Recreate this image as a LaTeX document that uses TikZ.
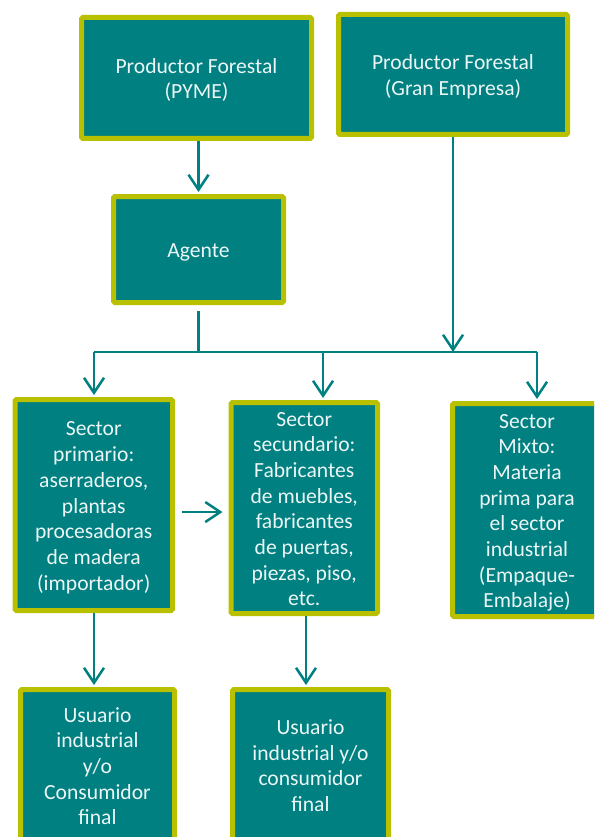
\documentclass[tikz,border=0pt]{standalone}
\usepackage{fontspec}
\setmainfont{Carlito}
\usetikzlibrary{arrows.meta}
\definecolor{tealfill}{RGB}{0,128,128}
\definecolor{olivebrd}{RGB}{184,192,0}
\definecolor{txtc}{RGB}{236,246,246}
\newcommand{\mytop}{\rule{0pt}{20pt}}
\newcommand{\mybot}{\rule[-4pt]{0pt}{0pt}}
\begin{document}
\begin{tikzpicture}[x=1pt,y=-1pt,
  box/.style={draw=olivebrd, line width=5pt, fill=tealfill, rounded corners=1.5pt,
    inner sep=0pt, align=center, text=txtc, font=\fontsize{21.6}{25.7}\selectfont},
  conn/.style={draw=tealfill, line width=2.5pt},
  arr/.style={conn, -{Straight Barb[length=15pt,width=20pt]}, shorten >=2pt}]
\useasboundingbox (0,0) rectangle (594,837);
\clip (0,0) rectangle (594,837);
\node[box, minimum width=230pt, minimum height=121pt] (pyme) at (196.5,78) {\mytop Productor Forestal\\(PYME)\mybot};
\node[box, minimum width=229pt, minimum height=120pt] (gran) at (453,74.5) {\mytop Productor Forestal\\(Gran Empresa)\mybot};
\node[box, minimum width=170pt, minimum height=106pt] (agente) at (198.5,249.5) {\mytop Agente\mybot};
\node[box, minimum width=157.5pt, minimum height=211pt] (prim) at (93.75,505) {\mytop Sector\\primario:\\aserraderos,\\plantas\\procesadoras\\de madera\\(importador)\mybot};
\node[box, minimum width=146.5pt, minimum height=211pt] (sec) at (304.25,508) {\mytop Sector\\secundario:\\Fabricantes\\de muebles,\\fabricantes\\de puertas,\\piezas, piso,\\etc.\mybot};
\node[box, minimum width=149pt, minimum height=213pt] (mixto) at (527,510) {\mytop Sector\\Mixto:\\Materia\\prima para\\el sector\\industrial\\(Empaque-\\Embalaje)\mybot};
\node[box, minimum width=154pt, minimum height=152pt] (usu1) at (97.5,765.5) {\mytop Usuario\\industrial\\y/o\\Consumidor\\final\mybot};
\node[box, minimum width=156pt, minimum height=151pt] (usu2) at (310.5,765) {\mytop Usuario\\industrial y/o\\consumidor\\final\mybot};
\coordinate (busL) at (94,352);
\coordinate (busM) at (323,352);
\coordinate (busR) at (537,352);
\coordinate (gbus) at (453,352);
\coordinate (hy) at (0,512);
\coordinate (dx) at (306,0);
\draw[conn] (busL) -- (busR);
\draw[arr] (pyme.south -| agente.north) -- (agente.north);
\draw[conn, shorten <=6pt] (agente.south) -- (agente.south |- busL);
\draw[arr, shorten >=0pt] (gran.south -| gbus) -- (gbus);
\draw[arr] (busL) -- (busL |- prim.north);
\draw[arr] (busM) -- (busM |- sec.north);
\draw[arr] (busR) -- (busR |- mixto.north);
\draw[arr, shorten <=7pt, shorten >=6pt] (prim.east |- hy) -- (sec.west |- hy);
\draw[arr] (prim.south -| busL) -- (usu1.north -| busL);
\draw[arr] (sec.south -| dx) -- (usu2.north -| dx);
\end{tikzpicture}
\end{document}
